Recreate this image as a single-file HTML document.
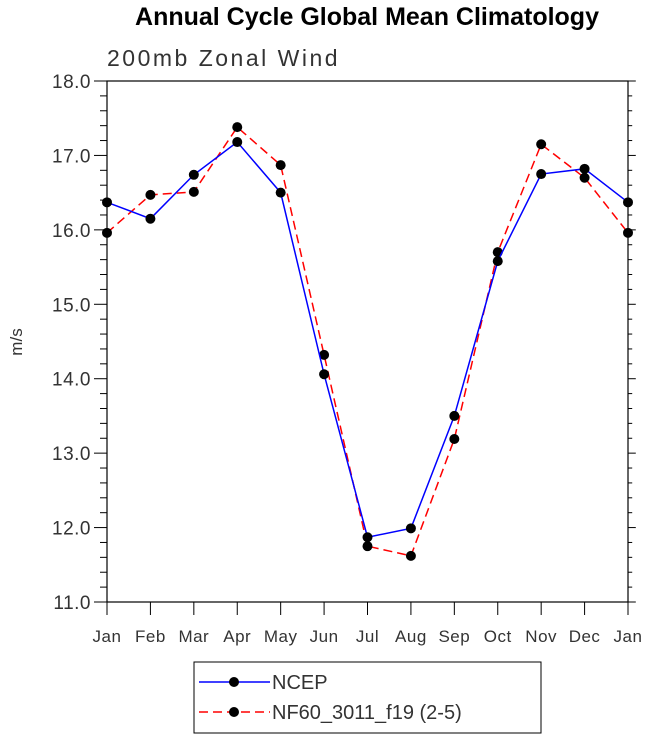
<!DOCTYPE html>
<html><head><meta charset="utf-8"><style>
body{margin:0;background:#fff;}
svg{display:block;font-family:"Liberation Sans",sans-serif;}
</style></head><body>
<svg id="c" width="648" height="738">
<text x="367" y="25" text-anchor="middle" font-size="25" font-weight="bold">Annual Cycle Global Mean Climatology</text>
<text x="107" y="66" font-size="23" fill="#333" letter-spacing="2.5">200mb Zonal Wind</text>
<text transform="translate(22,342) rotate(-90)" text-anchor="middle" font-size="17" fill="#333">m/s</text>
<g id="axes"></g>
<g id="series"></g>
<rect x="194" y="662" width="347" height="71" fill="none" stroke="#000"/>
<g>
<line x1="199" y1="682" x2="270" y2="682" stroke="#00f" stroke-width="1.5"/>
<circle cx="234" cy="682" r="5" fill="#000"/>
<text x="272" y="689" font-size="20" fill="#333">NCEP</text></g>
<g>
<line x1="199" y1="712" x2="270" y2="712" stroke="#f00" stroke-width="1.5" stroke-dasharray="9,5"/>
<circle cx="234" cy="712" r="5" fill="#000"/>
<text x="272" y="719" font-size="20" fill="#333">NF60_3011_f19 (2-5)</text></g>
</svg>
<script>
const months=["Jan","Feb","Mar","Apr","May","Jun","Jul","Aug","Sep","Oct","Nov","Dec","Jan"];
const ncep=[16.37,16.15,16.74,17.18,16.50,14.06,11.87,11.99,13.50,15.58,16.75,16.82,16.37];
const nf60=[15.96,16.47,16.51,17.38,16.87,14.32,11.75,11.62,13.19,15.70,17.15,16.70,15.96];
const yTicks=["11.0","12.0","13.0","14.0","15.0","16.0","17.0","18.0"];
const L=107,R=628,T=81,B=602,ymin=11,ymax=18;
const xs=i=>L+(R-L)*i/(months.length-1);
const ys=v=>B-(v-ymin)/(ymax-ymin)*(B-T);
const NS="http://www.w3.org/2000/svg";
function mk(t,a,p){const e=document.createElementNS(NS,t);for(const k in a)e.setAttribute(k,a[k]);p.appendChild(e);return e;}
const ax=document.getElementById('axes'),se=document.getElementById('series');
const fr=mk('rect',{x:L,y:T,width:R-L,height:B-T,fill:'none',stroke:'#000','stroke-width':1.2},ax);


for(let v=ymin;v<=ymax+1e-9;v+=0.2){const y=ys(v);const maj=Math.abs(v-Math.round(v))<1e-6;const len=maj?13:7;
mk('line',{x1:L-len,y1:y,x2:L,y2:y,stroke:'#000'},ax);mk('line',{x1:R,y1:y,x2:R+len*0.6,y2:y,stroke:'#000'},ax);}
yTicks.forEach(s=>{const t=mk('text',{x:L-16,y:ys(+s)+7,'text-anchor':'end','font-size':19,fill:'#333','letter-spacing':0.5},ax);t.textContent=s;

});
months.forEach((m,i)=>{const x=xs(i);mk('line',{x1:x,y1:B,x2:x,y2:B+13,stroke:'#000'},ax);
const t=mk('text',{x:x,y:B+40,'text-anchor':'middle','font-size':17,fill:'#333','letter-spacing':0.5},ax);t.textContent=m;

});
function draw(vals,col,dash,name){const g=mk('g',{},se);


mk('polyline',{points:vals.map((v,i)=>xs(i)+','+ys(v)).join(' '),fill:'none',stroke:col,'stroke-width':1.5,'stroke-dasharray':dash},g);
vals.forEach((v,i)=>{const c=mk('circle',{cx:xs(i),cy:ys(v),r:5,fill:'#000'},g);

});}
draw(nf60,'#f00','9,5','series-nf60');
draw(ncep,'#00f','none','series-ncep');
</script>
</body></html>
